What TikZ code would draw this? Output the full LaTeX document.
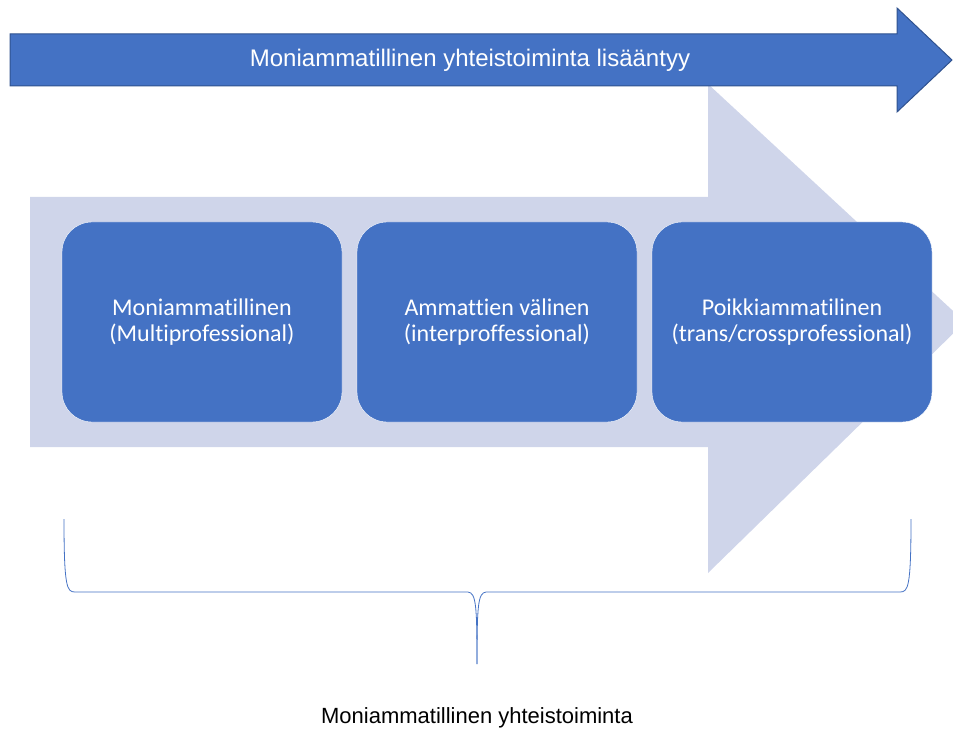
\documentclass[tikz,border=0pt]{standalone}
\usepackage{fontspec}
\setmainfont{Liberation Sans}
\newfontfamily\boxfont[Ligatures = NoCommon]{Carlito}
\definecolor{mainblue}{HTML}{4472C4}
\definecolor{edgeblue}{HTML}{2F528F}
\definecolor{paleblue}{HTML}{CFD5EA}
\tikzset{
  stage/.style = {draw = white, fill = mainblue, rounded corners = 30pt, minimum width = 280pt, minimum height = 200pt, text = white, align = center, font = \boxfont\fontsize{24}{26}\selectfont},
  label/.style = {font = \fontsize{24}{28}\selectfont}
}
\begin{document}
\begin{tikzpicture}[x = 1pt, y = -1pt]
\useasboundingbox (0,0) rectangle (953,735);
\clip (0,0) rectangle (953,735);
\fill[paleblue] (30,197) -- (708,197) -- (708,84) -- (965,322) -- (708,573) -- (708,447) -- (30,447) -- cycle; %big arrow
\draw[edgeblue, fill = mainblue, line width = 1pt] (10,34) -- (897,34) -- (897,8) -- (952,60) -- (897,112) -- (897,86) -- (10,86) -- cycle; %top arrow
\node[label, text = white] (more) at (470,60) {Moniammatillinen yhteistoiminta lisääntyy};
\node[stage] (multi) at (202,322) {Moniammatillinen\\(Multiprofessional)};
\node[stage] (inter) at (497,322) {Ammattien välinen\\(interproffessional)};
\node[stage] (trans) at (792,322) {Poikkiammatilinen\\(trans/crossprofessional)};
\coordinate (tip) at (477,664);
\draw[mainblue, line width = .8pt] (64,519) .. controls (64,588) and (67,592) .. (75,592) -- (468,592) .. controls (476,593) and (477,605) .. (tip); %brace left
\draw[mainblue, line width = .8pt] (911,519) .. controls (911,588) and (908,592) .. (900,592) -- (486,592) .. controls (478,593) and (477,605) .. (tip); %brace right
\node[label, font = \fontsize{22}{26}\selectfont] (all) at (477,718) {Moniammatillinen yhteistoiminta};
\end{tikzpicture}
\end{document}
